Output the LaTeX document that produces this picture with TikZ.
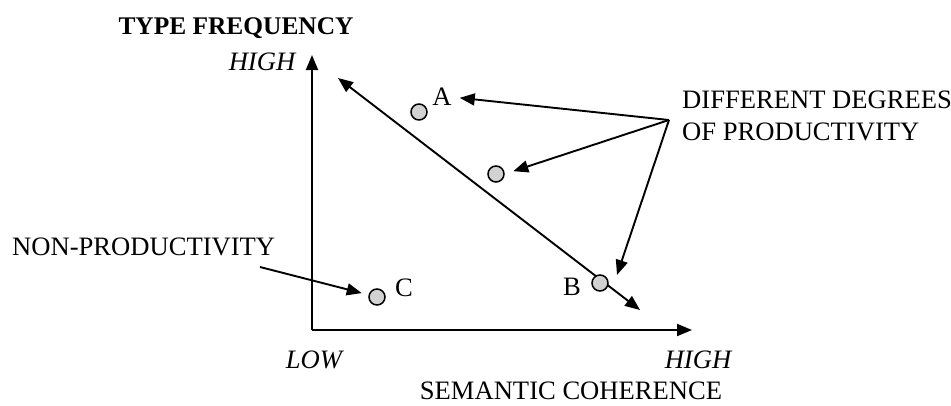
\documentclass[tikz,border=0pt]{standalone}
\usepackage{fontspec}
\setmainfont{Liberation Serif}
\usetikzlibrary{arrows.meta}
\begin{document}
\begin{tikzpicture}[x=1pt,y=-1pt,
  lbl/.style={inner sep=0pt,font=\fontsize{26.6}{30}\selectfont},
  dot/.style={circle,draw,line width=1.5pt,fill=gray!35,minimum size=16pt,inner sep=0pt},
  arr/.style={line width=1.9pt,-{Triangle[length=15pt,width=12pt]}},
  darr/.style={line width=1.9pt,{Triangle[length=15pt,width=12pt]}-{Triangle[length=15pt,width=12pt]}}]
\useasboundingbox (0,0) rectangle (951,405);
% axes
\coordinate (O) at (312,330);
\coordinate (ytip) at (312,55);
\coordinate (xtip) at (692,330);
\draw[arr] (O) -- (ytip);
\draw[arr] (O) -- (xtip);
% axis labels
\node[lbl,font=\fontsize{25.4}{30}\selectfont\bfseries] (tf) at (236,28) {TYPE FREQUENCY};
\node[lbl,font=\fontsize{26.6}{30}\selectfont\itshape] (yhigh) at (262,62) {HIGH};
\node[lbl,font=\fontsize{26.6}{30}\selectfont\itshape] (xlow) at (314,360) {LOW};
\node[lbl,font=\fontsize{26.6}{30}\selectfont\itshape] (xhigh) at (698,360) {HIGH};
\node[lbl] (sc) at (571,391) {SEMANTIC COHERENCE};
% diagonal
\coordinate (d1) at (338,78);
\coordinate (d2) at (640,310);
\draw[darr] (d2) -- (d1);
% points
\node[dot] (pA) at (419,112) {};
\node[lbl] (lA) at (442,97) {A};
\node[dot] (pM) at (496,174) {};
\node[dot] (pB) at (600,283) {};
\node[lbl] (lB) at (572,287) {B};
\node[dot] (pC) at (377,297) {};
\node[lbl] (lC) at (404,288) {C};
% right label
\node[lbl,anchor=west] (dd1) at (682,100) {DIFFERENT DEGREES};
\node[lbl,anchor=west] (dd2) at (682,132) {OF PRODUCTIVITY};
\coordinate (dp) at (669,120);
\draw[arr,shorten >=8pt] (dp) -- (lA.east);
\draw[arr,shorten >=9pt] (dp) -- (pM.east);
\coordinate (tB) at (617,275);
\draw[arr] (dp) -- (tB);
% left label
\node[lbl,anchor=west] (np) at (12,247) {NON-PRODUCTIVITY};
\coordinate (npc) at (260,267);
\draw[arr,shorten >=7pt] (npc) -- (pC);
\end{tikzpicture}
\end{document}
